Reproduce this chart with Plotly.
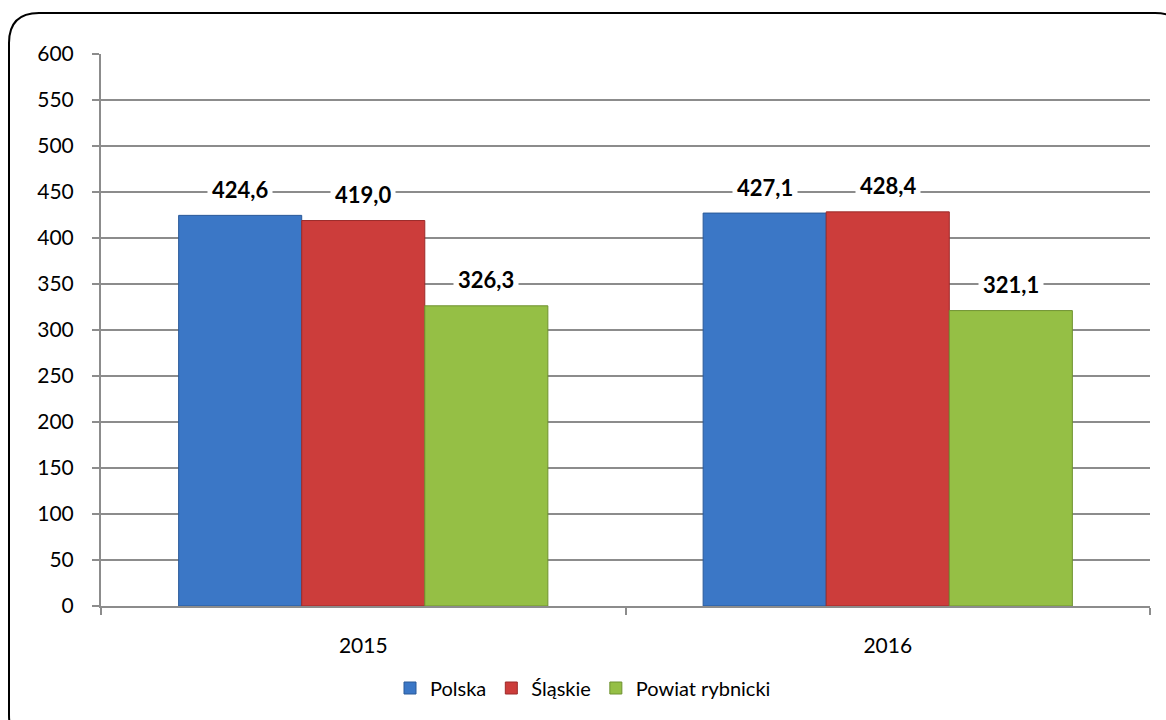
import plotly.graph_objects as go

categories = ["2015", "2016"]
series_names = ["Polska", "Śląskie", "Powiat rybnicki"]
polska = [424.6, 427.1]
slaskie = [419.0, 428.4]
powiat = [326.3, 321.1]
y_ticks = [0, 50, 100, 150, 200, 250, 300, 350, 400, 450, 500, 550, 600]

values = [polska, slaskie, powiat]
colors = ["#3b77c6", "#cc3d3b", "#95bf45"]
outlines = ["#2b5a99", "#9c2b2a", "#6f9230"]

W, H = 1166, 720
ML, MR, MT, MB = 101, 16, 54, 114
BARGAP = 0.296

fig = go.Figure()
for name, vals, c, oc in zip(series_names, values, colors, outlines):
    fig.add_trace(go.Bar(
        name=name, x=categories, y=vals,
        marker=dict(color=c, line=dict(color=oc, width=1)),
    ))

# data labels with white background
bw = (1 - BARGAP) / 3
for j, vals in enumerate(values):
    for i, v in enumerate(vals):
        fig.add_annotation(
            x=i + (j - 1) * bw, y=v, xref="x", yref="y",
            text="<b>" + f"{v:.1f}".replace(".", ",") + "</b>",
            showarrow=False, yanchor="middle", yshift=26,
            font=dict(family="Lato, Open Sans, sans-serif", size=22, color="#000"),
            bgcolor="white", borderpad=4,
        )

# rounded border (pixel -> paper conversion)
pw = W - ML - MR
ph = H - MT - MB
def px(x):
    return (x - ML) / pw
def py(y):
    return (H - MB - y) / ph

L, T, R, B, r = 9, 13, 1185, 745, 30
path = (f"M {px(L)},{py(T + r)} Q {px(L)},{py(T)} {px(L + r)},{py(T)} "
        f"L {px(R - r)},{py(T)} Q {px(R)},{py(T)} {px(R)},{py(T + r)} "
        f"L {px(R)},{py(B - r)} Q {px(R)},{py(B)} {px(R - r)},{py(B)} "
        f"L {px(L + r)},{py(B)} Q {px(L)},{py(B)} {px(L)},{py(B - r)} Z")
fig.add_shape(type="path", path=path, xref="paper", yref="paper",
              line=dict(color="black", width=2), layer="below")

font = dict(family="Lato, Open Sans, sans-serif", size=21, color="#000")
lfont = dict(family="Lato, Open Sans, sans-serif", size=20, color="#000")
fig.update_layout(
    width=W, height=H,
    margin=dict(l=ML, r=MR, t=MT, b=MB),
    paper_bgcolor="white", plot_bgcolor="white",
    barmode="group", bargap=BARGAP, bargroupgap=0,
    font=font,
    showlegend=True,
    legend=dict(orientation="h", xref="container", yref="container",
                x=0.5, xanchor="center", y=1 - 688 / 720, yanchor="middle",
                font=lfont, traceorder="normal"),
    xaxis=dict(type="category", showline=True, linecolor="#8c8c8c", linewidth=2,
               ticks="outside", tickson="boundaries", ticklen=7, tickcolor="#8c8c8c",
               tickwidth=2, showgrid=False, ticklabelstandoff=20, tickfont=font),
    yaxis=dict(range=[0, 600], tickvals=y_ticks, showline=True, linecolor="#8c8c8c",
               linewidth=2, ticks="outside", ticklen=7, tickcolor="#8c8c8c", tickwidth=2,
               showgrid=True, gridcolor="#8c8c8c", gridwidth=1.5, zeroline=False,
               ticklabelstandoff=14, tickfont=font),
)

fig.write_html("out.html", config={"displayModeBar": False},
               post_script="document.body.style.margin='0';document.body.style.overflow='hidden';")
